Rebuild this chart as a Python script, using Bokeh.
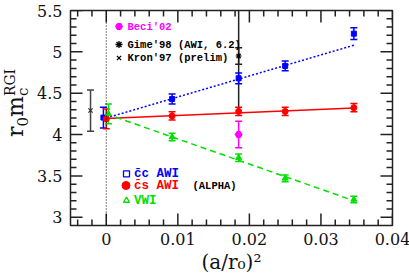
import numpy as np
from math import pi
from bokeh.plotting import figure
from bokeh.layouts import row
from bokeh.models import (Range1d, LinearAxis, Whisker, ColumnDataSource, Div,
                          Span, TeeHead, FixedTicker)
from bokeh.embed import file_html
from bokeh.resources import INLINE
from bokeh.core.properties import value

# ---------------- data ----------------
cc_x = [-0.0004, 0.0092, 0.0185, 0.0250, 0.0346]
cc_y = [4.205, 4.43, 4.68, 4.83, 5.22]
cc_err = [0.125, 0.06, 0.065, 0.06, 0.07]

cs_x = [0.0, 0.0092, 0.0185, 0.0250, 0.0346]
cs_y = [4.19, 4.225, 4.28, 4.28, 4.325]
cs_err = [0.12, 0.05, 0.05, 0.05, 0.05]

vwi_x = [0.0003, 0.0092, 0.0185, 0.0250, 0.0346]
vwi_y = [4.25, 3.97, 3.72, 3.47, 3.215]
vwi_err = [0.12, 0.045, 0.045, 0.04, 0.04]

fit_x = [0.0, 0.0346]
cc_fit = [4.20, 5.08]
cs_fit = [4.195, 4.32]
vwi_fit = [4.25, 3.20]

beci_x = [0.0185]; beci_y = [4.00]; beci_err = [0.16]
gime_x = [0.0185]; gime_y = [4.95]; gime_err = [0.10]; gime_sys = [0.67]
kron_x = [-0.0022]; kron_y = [4.29]; kron_err = [0.25]

x_ticks = [0.0, 0.01, 0.02, 0.03, 0.04]
x_tick_labels = ["0", "0.01", "0.02", "0.03", "0.04"]
y_ticks = [3.0, 3.5, 4.0, 4.5, 5.0, 5.5]
y_tick_labels = ["3", "3.5", "4", "4.5", "5", "5.5"]

top_legend = ["Beci'02", "Gime'98 (AWI, 6.2)", "Kron'97 (prelim)"]
bot_legend = ["c\u0304c AWI", "c\u0304s AWI", "VWI"]

# ---------------- layout ----------------
DIVW = 34
FW, FH = 322, 215
BL, BR, BT, BB = 34, 18, 10, 52
XR = (-0.005, 0.04)
YR = (2.9, 5.5)

# image pixel -> data helpers (frame at image x 68..390, y 10..225)
fl, fr, ft, fb = DIVW + BL, DIVW + BL + FW, BT, BT + FH
def dx(ix):
    return XR[0] + (ix - fl) * (XR[1] - XR[0]) / (fr - fl)
def dy(iy):
    return YR[1] - (iy - ft) * (YR[1] - YR[0]) / (fb - ft)

p = figure(frame_width=FW, frame_height=FH, output_backend="svg", toolbar_location=None,
           x_range=Range1d(*XR), y_range=Range1d(*YR),
           min_border_left=BL, min_border_right=BR, min_border_top=BT,
           min_border_bottom=BB, x_axis_type=None, y_axis_type=None)
p.grid.visible = False
p.outline_line_color = "#222222"
p.outline_line_width = 1.5

xb = LinearAxis(ticker=FixedTicker(ticks=x_ticks))
yl = LinearAxis(ticker=FixedTicker(ticks=y_ticks))
for ax, tk, lb in ((xb, x_ticks, x_tick_labels), (yl, y_ticks, y_tick_labels)):
    ax.axis_line_color = None
    ax.major_tick_line_color = None
    ax.minor_tick_line_color = None
    ax.major_tick_in = 0
    ax.major_tick_out = 0
    ax.minor_tick_in = 0
    ax.minor_tick_out = 0
    ax.major_label_overrides = dict(zip(tk, lb))
    ax.major_label_text_font = "DejaVu Serif"
    ax.major_label_text_font_size = "16px"
    ax.major_label_text_color = "#111111"
    ax.major_label_standoff = 8
xb.major_label_standoff = 7
xb.axis_label = "(a/r\u2080)\u00b2"
xb.axis_label_text_font = "DejaVu Serif"
xb.axis_label_text_font_size = "20px"
xb.axis_label_text_font_style = "normal"
xb.axis_label_text_color = "#111111"
xb.axis_label_standoff = 2
p.add_layout(xb, "below")
p.add_layout(yl, "left")

# inward tick marks on all four sides (rays of fixed screen length)
xminor = [float(v) for v in np.round(np.arange(-0.004, 0.0401, 0.002), 4)
          if min(abs(v - t) for t in x_ticks) > 1e-9]
yminor = [float(v) for v in np.round(np.arange(3.0, 5.501, 0.1), 2)
          if min(abs(v - t) for t in y_ticks) > 1e-9]
TC = "#222222"
for xs, ln in ((x_ticks, 12), (xminor, 6)):
    p.ray(x=xs, y=[YR[0]] * len(xs), length=ln, length_units="screen",
          angle=pi / 2, line_color=TC, line_width=1.5)
    p.ray(x=xs, y=[YR[1]] * len(xs), length=ln, length_units="screen",
          angle=-pi / 2, line_color=TC, line_width=1.5)
for ys, ln in ((y_ticks, 12), (yminor, 6)):
    p.ray(x=[XR[0]] * len(ys), y=ys, length=ln, length_units="screen",
          angle=0, line_color=TC, line_width=1.5)
    p.ray(x=[XR[1]] * len(ys), y=ys, length=ln, length_units="screen",
          angle=pi, line_color=TC, line_width=1.5)

p.add_layout(Span(location=0, dimension="height", line_color="black",
                  line_dash="1 2", line_width=1))

GREEN = "#00e000"
# fit lines
p.line(fit_x, cc_fit, line_color="blue", line_dash="2 2", line_width=1.5)
p.line(fit_x, cs_fit, line_color="red", line_width=1.5)
p.line(fit_x, vwi_fit, line_color=GREEN, line_dash="6 4", line_width=1.5)

def errbars(xs, ys, es, color, caps=True, width=1.5):
    src = ColumnDataSource(dict(x=xs, lo=[y - e for y, e in zip(ys, es)],
                                hi=[y + e for y, e in zip(ys, es)]))
    if caps:
        uh = TeeHead(size=7, line_color=color, line_width=width)
        lh = TeeHead(size=7, line_color=color, line_width=width)
    else:
        uh = None; lh = None
    w = Whisker(source=src, base="x", lower="lo", upper="hi", dimension="height",
                line_color=color, line_width=width, upper_head=uh, lower_head=lh)
    p.add_layout(w)

errbars(gime_x, gime_y, gime_sys, "#222222", caps=False)
errbars(gime_x, gime_y, gime_err, "#222222")
errbars(kron_x, kron_y, kron_err, "#444444")
errbars(beci_x, beci_y, beci_err, "magenta")
errbars(cc_x, cc_y, cc_err, "blue")
errbars(cs_x, cs_y, cs_err, "red")
errbars(vwi_x, vwi_y, vwi_err, GREEN)

p.scatter(gime_x, gime_y, marker="asterisk", size=6, line_color="black", line_width=1.2)
p.scatter(kron_x, kron_y, marker="x", size=6, line_color="#333333", line_width=1.2)
p.scatter(beci_x, beci_y, marker="hex", size=7, color="magenta")
p.scatter(cc_x, cc_y, marker="square", size=5, color="blue")
p.scatter(cs_x, cs_y, marker="circle", size=6, color="red")
p.scatter(vwi_x, vwi_y, marker="triangle", size=6, color=GREEN)

# ---------------- legends (in-plot) ----------------
mono = value("Liberation Mono")
ty = [dy(26), dy(44), dy(57.5)]
p.scatter([dx(116.5)], [ty[0]], marker="hex", size=7, color="magenta")
p.scatter([dx(116.5)], [ty[1]], marker="asterisk", size=7, line_color="black", line_width=1.3)
p.scatter([dx(116.5)], [ty[2]], marker="x", size=6, line_color="black", line_width=1.3)
for t, yy, c in zip(top_legend, ty, ["magenta", "black", "black"]):
    p.text([dx(125)], [yy], text=[t], text_font=mono, text_font_style="bold",
           text_font_size="10.5px", text_baseline="middle", text_color=c)

by = [dy(173.3), dy(185), dy(200)]
p.scatter([dx(124)], [by[0]], marker="square", size=6, fill_color=None,
          line_color="blue", line_width=1.3)
p.scatter([dx(123.5)], [by[1]], marker="circle", size=8, color="red")
p.scatter([dx(124)], [by[2]], marker="triangle", size=6, fill_color=None,
          line_color=GREEN, line_width=1.3)
for t, yy, c in zip(bot_legend, by, ["blue", "red", GREEN]):
    p.text([dx(131.5)], [yy], text=[t], text_font=mono, text_font_style="bold",
           text_font_size="12.5px", text_baseline="middle", text_color=c)
p.text([dx(190)], [by[1]], text=["(ALPHA)"], text_font=mono, text_font_style="bold",
       text_font_size="10.5px", text_baseline="middle", text_color="black")

# ---------------- y title (vertical HTML text, reads bottom to top) ----------------
ytitle = (
    '<div style="position:relative;width:%dpx;height:270px;">'
    '<div style="position:absolute;left:17px;top:103px;'
    'transform:translate(-50%%,-50%%) rotate(180deg);'
    'writing-mode:vertical-rl;text-orientation:sideways;white-space:nowrap;'
    "font-family:'DejaVu Serif';font-size:22px;line-height:22px;color:#111;\">"
    'r<span style="font-size:15px;line-height:15px;vertical-align:-5px;">0</span>m'
    '<span style="display:inline-flex;flex-direction:column;align-items:flex-start;'
    'font-size:14px;line-height:13px;vertical-align:8px;">'
    '<span>RGI</span><span style="font-size:15px;">c</span></span>'
    '</div></div>' % DIVW
)
div = Div(text=ytitle, width=DIVW, height=270, margin=0)

layout = row(div, p, spacing=0)
open("out.html", "w").write(file_html(layout, INLINE))
